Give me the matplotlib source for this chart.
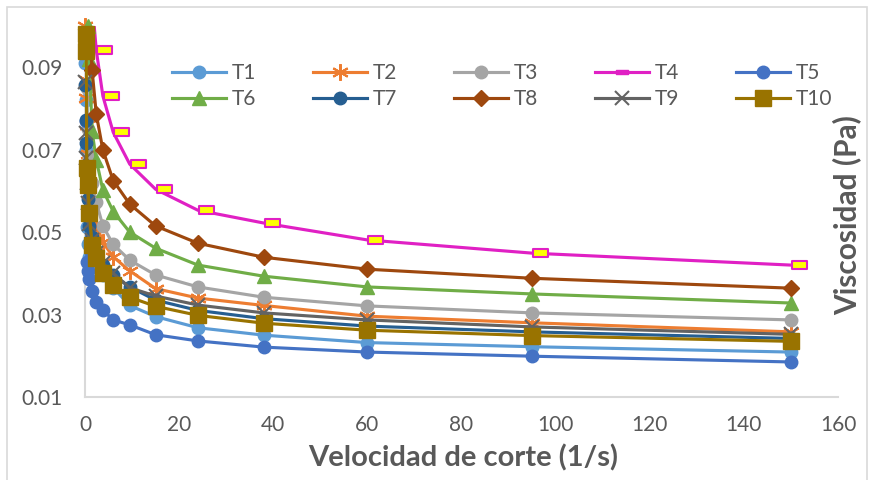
import numpy as np
import matplotlib
matplotlib.use("Agg")
import matplotlib.pyplot as plt
from matplotlib.path import Path
from matplotlib.lines import Line2D
from matplotlib.patches import Rectangle

plt.rcParams['font.family'] = ['Lato', 'DejaVu Sans']

nan = np.nan
# velocidad de corte (1/s)
shear = [0.1, 0.15, 0.24, 0.38, 0.6, 0.95, 1.5, 2.4, 3.8, 6.0, 9.5, 15, 24, 38, 60, 95, 150]

# viscosidad (Pa) por ensayo
T1 = [0.091, 0.082, 0.070, 0.0512, 0.047, 0.0440, 0.0430, 0.0415, 0.0395, 0.0365, 0.0322, 0.0295, 0.0268, 0.0250, 0.0232, 0.0222, 0.0209]
T2 = [0.100, 0.0868, 0.0825, 0.0759, 0.069, 0.062, 0.0565, 0.052, 0.0475, 0.0440, 0.0406, 0.0363, 0.0340, 0.0322, 0.0296, 0.0280, 0.0258]
T3 = [nan, nan, nan, 0.085, 0.075, 0.068, 0.062, 0.0573, 0.0515, 0.0470, 0.0432, 0.0396, 0.0367, 0.0342, 0.0321, 0.0304, 0.0287]
T4 = [nan, nan, nan, nan, nan, nan, 0.106, 0.0941, 0.0830, 0.0742, 0.0665, 0.0604, 0.0553, 0.0522, 0.0481, 0.0449, 0.0420]
T5 = [nan, nan, 0.077, 0.0427, 0.0405, 0.0386, 0.0357, 0.0330, 0.0311, 0.0287, 0.0275, 0.0251, 0.0236, 0.0221, 0.0209, 0.0199, 0.0185]
T6 = [nan, nan, nan, nan, 0.100, 0.092, 0.0745, 0.0675, 0.0602, 0.0550, 0.0500, 0.0461, 0.0420, 0.0393, 0.0367, 0.0350, 0.0328]
T7 = [0.0856, 0.0772, 0.0716, 0.065, 0.058, 0.0515, 0.0488, 0.0449, 0.0420, 0.0395, 0.0367, 0.0335, 0.0310, 0.0290, 0.0272, 0.0258, 0.0242]
T8 = [nan, nan, nan, nan, 0.110, 0.102, 0.0893, 0.0786, 0.0699, 0.0625, 0.0568, 0.0515, 0.0473, 0.0439, 0.0410, 0.0388, 0.0364]
T9 = [0.0864, 0.074, 0.068, 0.062, 0.057, 0.052, 0.048, 0.045, 0.0425, 0.0400, 0.0365, 0.0345, 0.0323, 0.0304, 0.0287, 0.0270, 0.0252]
T10 = [0.104, 0.098, 0.094, 0.0655, 0.0615, 0.0546, 0.0468, 0.0437, 0.0400, 0.0372, 0.0342, 0.0320, 0.0298, 0.0279, 0.0262, 0.0249, 0.0235]

names = ['T1', 'T2', 'T3', 'T4', 'T5', 'T6', 'T7', 'T8', 'T9', 'T10']
series = [T1, T2, T3, T4, T5, T6, T7, T8, T9, T10]
colors = ['#5B9BD5', '#ED7D31', '#A5A5A5', '#E020C4', '#4472C4',
          '#70AD47', '#255E91', '#9E480E', '#636363', '#997300']

# marcador "guion" de Excel, desplazado a la derecha del punto
dash = Path([(0.05, -0.22), (1, -0.22), (1, 0.22), (0.05, 0.22), (0.05, -0.22)],
            [Path.MOVETO, Path.LINETO, Path.LINETO, Path.LINETO, Path.CLOSEPOLY])
dash_c = Path([(-1, -0.3), (1, -0.3), (1, 0.3), (-1, 0.3), (-1, -0.3)],
              [Path.MOVETO, Path.LINETO, Path.LINETO, Path.LINETO, Path.CLOSEPOLY])

styles = [
    dict(marker='o', ms=9),
    dict(marker=(6, 2, 0), ms=12, mew=1.5),
    dict(marker='o', ms=9),
    dict(marker=dash, ms=23, mfc='#FFFF00', mew=1.5),
    dict(marker='o', ms=9),
    dict(marker='^', ms=10),
    dict(marker='o', ms=9),
    dict(marker='D', ms=8.5),
    dict(marker='x', ms=9.5, mew=1.5),
    dict(marker='s', ms=11),
]

YMIN, YMAX = 0.01, 0.1

fig = plt.figure(figsize=(8.7, 4.8), dpi=100)
ax = fig.add_axes([85 / 870, 83 / 480, 753 / 870, 371 / 480])

handles = []
for k, (name, y, c, st) in enumerate(zip(names, series, colors, styles)):
    y = np.array(y, dtype=float)
    ax.plot(shear, y, color=c, lw=2.25, zorder=3 + k)
    # marcadores sin recortar, solo los que caen dentro del rango
    ym = np.where(y <= YMAX + 1e-9, y, np.nan)
    ax.plot(shear, ym, ls='none', mec=c, clip_on=False, zorder=3 + k,
            **{'mfc': c, **st})
    if name == 'T4':
        h = Line2D([], [], color=c, lw=2.25, marker=dash_c, ms=9, mfc=c, mec=c)
    else:
        h = Line2D([], [], color=c, lw=2.25, mec=c, **{'mfc': c, **st})
    handles.append(h)

ax.set_xlim(0, 160)
ax.set_ylim(YMIN, YMAX)
ax.set_xticks(np.arange(0, 161, 20))
ax.set_yticks([0.01, 0.03, 0.05, 0.07, 0.09])
ax.set_yticklabels(['0.01', '0.03', '0.05', '0.07', '0.09'])
ax.tick_params(length=0, labelsize=15, labelcolor='#595959')
ax.tick_params(axis='y', pad=16)
ax.tick_params(axis='x', pad=13)
for s in ['top', 'right']:
    ax.spines[s].set_visible(False)
for s in ['left', 'bottom']:
    ax.spines[s].set_color('#D9D9D9')
    ax.spines[s].set_linewidth(1.5)

# leyenda en filas: T1..T5 arriba, T6..T10 abajo
order = [0, 5, 1, 6, 2, 7, 3, 8, 4, 9]
fig.legend([handles[i] for i in order], [names[i] for i in order],
           ncol=5, loc='upper left', bbox_to_anchor=(172 / 870, 1 - 63 / 480),
           frameon=False, fontsize=15, labelcolor='#595959', handlelength=2.6,
           handletextpad=0.25, columnspacing=2.75, labelspacing=0.3, borderpad=0,
           borderaxespad=0)

fig.text(463 / 870, 1 - 458 / 480, 'Velocidad de corte (1/s)', ha='center', va='center',
         fontsize=21, fontweight='bold', color='#595959')
fig.text(847 / 870, 1 - 215 / 480, 'Viscosidad (Pa)', ha='center', va='center',
         rotation=90, fontsize=21.5, fontweight='bold', color='#595959')

fig.add_artist(Rectangle((7 / 870, -0.01), 860 / 870, 1 - 7 / 480 + 0.01,
                         transform=fig.transFigure, fill=False, ec='#D9D9D9', lw=1.2))

fig.savefig('out.png', dpi=100)
